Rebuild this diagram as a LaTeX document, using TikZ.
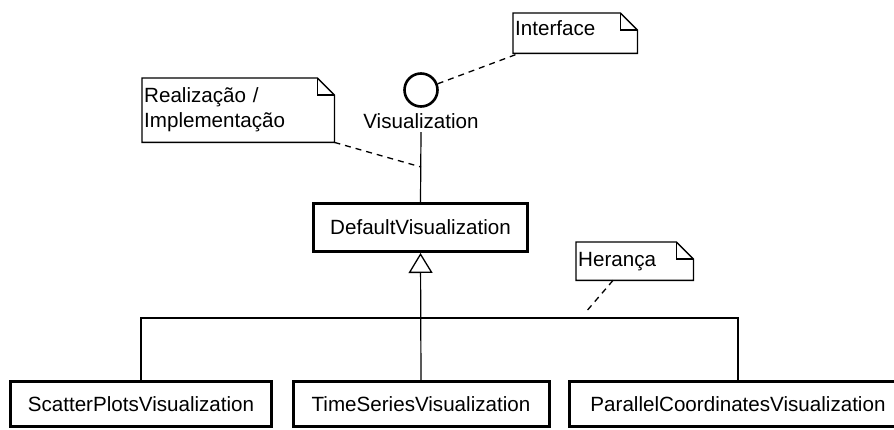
\documentclass[tikz,border=0pt]{standalone}
\usepackage{fontspec}
\setmainfont{Liberation Sans}
\usetikzlibrary{arrows.meta}
\newcommand\notepath[2]{%
  \draw[noteline] (#1.north west) -- ([xshift=-#2]#1.north east) -- ([yshift=-#2]#1.north east) -- (#1.south east) -- (#1.south west) -- cycle;
  \draw[noteline] ([xshift=-#2]#1.north east) |- ([yshift=-#2]#1.north east);}
\begin{document}
\begin{tikzpicture}[x=1pt,y=-1pt,
  every node/.style={font=\fontsize{20.6}{25}\selectfont},
  classbox/.style={draw, line width=3pt, inner sep=0pt},
  notebox/.style={inner xsep=2pt, inner ysep=0pt, anchor=north west, align=left},
  thinline/.style={line width=1.2pt},
  dashline/.style={line width=1.3pt, dash pattern=on 6pt off 5pt},
  noteline/.style={line width=1.3pt},
  iface/.style={draw, circle, line width=2.6pt, minimum size=33pt, inner sep=0pt}
]
\useasboundingbox (0,0) rectangle (894,430);
\clip (0,0) rectangle (894,430);

% interface
\node[iface] (vis) at (421,90) {};
\node (vislabel) at (421,121) {Visualization};

% classes
\node[classbox, minimum width=214pt, minimum height=48pt] (dflt) at (420.5,227.5) {DefaultVisualization};
\node[classbox, minimum width=261pt, minimum height=45pt] (sc) at (141,404) {ScatterPlotsVisualization};
\node[classbox, minimum width=256pt, minimum height=45pt] (ts) at (421,404) {TimeSeriesVisualization};
\node[classbox, minimum width=337pt, minimum height=45pt] (pc) at (738,404) {ParallelCoordinatesVisualization};

% notes
\node[notebox, text width=120pt, minimum height=40pt, text depth=11pt] (intf) at (513,13) {Interface};
\notepath{intf}{17pt}
\node[notebox, text width=188pt, minimum height=64pt] (real) at (142,78) {Realização /\\Implementação};
\notepath{real}{17pt}
\node[notebox, text width=113pt, minimum height=38pt] (her) at (576,242) {Herança};
\notepath{her}{17pt}

% connectors
\coordinate (rj) at (421,167);
\coordinate (hj) at (585,313);
\coordinate (barL) at (141,318);
\coordinate (barR) at (738,318);

\draw[thinline] (vislabel.south) -- (dflt.north);
\draw[thinline, -{Triangle[open, length=20pt, width=24pt, line width=1.3pt]}] (ts.north) -- (dflt.south);
\draw[thinline] (sc.north) -- (barL) -- (barR) -- (pc.north);

\draw[dashline] (vis) -- ([xshift=6pt]intf.south west);
\draw[dashline] (real.south east) -- (rj);
\draw[dashline] ([xshift=37pt]her.south west) -- (hj);
\end{tikzpicture}
\end{document}
